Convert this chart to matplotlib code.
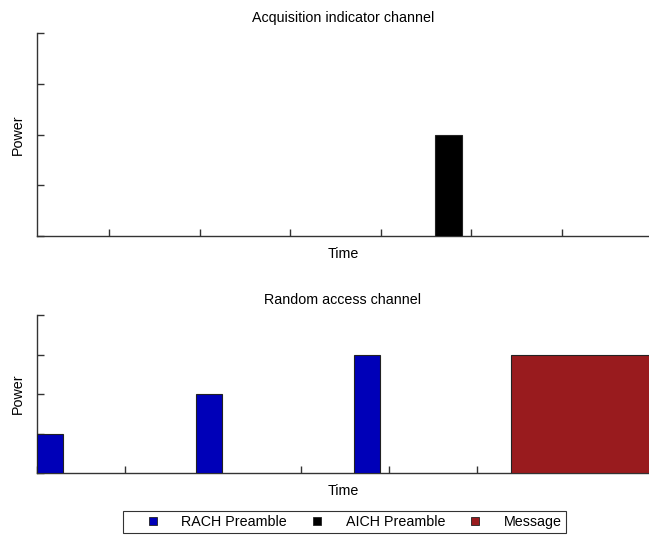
import matplotlib
matplotlib.use("Agg")
import matplotlib.pyplot as plt
from matplotlib.lines import Line2D

plt.rcParams["font.family"] = ["Liberation Sans", "DejaVu Sans"]

FONT_SIZE = 10.3
RACH_BLUE = "#0000b8"
AICH_BLACK = "#000000"
MESSAGE_RED = "#991b1e"
EDGE = "#222222"
SPINE = "#333333"

# Random access channel: preamble ramp then message
rach_start = [0.0, 1.8, 3.6]
rach_power = [1, 2, 3]
rach_width = 0.3
message_start = 5.38
message_power = 3
message_width = 2.0

# Acquisition indicator channel
aich_start = [4.6]
aich_power = [2]
aich_width = 0.3

top_xticks = [1, 2, 3, 4, 5, 6]
bottom_xticks = [0, 1, 2, 3, 4, 5, 6]
yticks = [0, 1, 2, 3, 4]


def style_axes(ax, title):
    ax.set_title(title, fontsize=FONT_SIZE, pad=8)
    ax.set_xlabel("Time", fontsize=FONT_SIZE, labelpad=8)
    ax.set_ylabel("Power", fontsize=FONT_SIZE, labelpad=8.5)
    for spine in ("top", "right"):
        ax.spines[spine].set_visible(False)
    for spine in ("left", "bottom"):
        ax.spines[spine].set_color(SPINE)
        ax.spines[spine].set_linewidth(1.0)
    ax.set_yticks(yticks)
    ax.set_ylim(0, 4)
    ax.tick_params(direction="in", length=5, width=1, color=SPINE,
                   labelbottom=False, labelleft=False)


fig = plt.figure(figsize=(6.49, 5.35), dpi=100)

ax_top = fig.add_axes([37 / 649, 1 - 236 / 535, 1 - 37 / 649, (236 - 33) / 535])
ax_top.bar(aich_start, aich_power, width=aich_width, align="edge",
           color=AICH_BLACK, edgecolor=EDGE, linewidth=0.8, zorder=3)
ax_top.set_xlim(0.205, 6.96)
ax_top.set_xticks(top_xticks)
style_axes(ax_top, "Acquisition indicator channel")

ax_bot = fig.add_axes([37 / 649, 1 - 473 / 535, 1 - 37 / 649, (473 - 315) / 535])
ax_bot.bar(rach_start, rach_power, width=rach_width, align="edge",
           color=RACH_BLUE, edgecolor=EDGE, linewidth=0.8, zorder=3)
ax_bot.bar([message_start], [message_power], width=message_width, align="edge",
           color=MESSAGE_RED, edgecolor=EDGE, linewidth=0.8, zorder=3)
ax_bot.set_xlim(0, 6.95)
ax_bot.set_xticks(bottom_xticks)
style_axes(ax_bot, "Random access channel")

handles = [
    Line2D([], [], linestyle="none", marker="s", markersize=5.2,
           markerfacecolor=c, markeredgecolor=EDGE, markeredgewidth=0.6)
    for c in (RACH_BLUE, AICH_BLACK, MESSAGE_RED)
]
leg = fig.legend(handles, ["RACH Preamble", "AICH Preamble", "Message"],
                 loc="center", bbox_to_anchor=(344.5 / 649, 1 - 522 / 535),
                 ncol=3, fontsize=FONT_SIZE, frameon=True, fancybox=False,
                 handlelength=3.6, handletextpad=0.2, columnspacing=0.3,
                 borderpad=0.28)
leg.get_frame().set_edgecolor("#000000")
leg.get_frame().set_linewidth(0.8)

fig.savefig("out.png", dpi=100)
